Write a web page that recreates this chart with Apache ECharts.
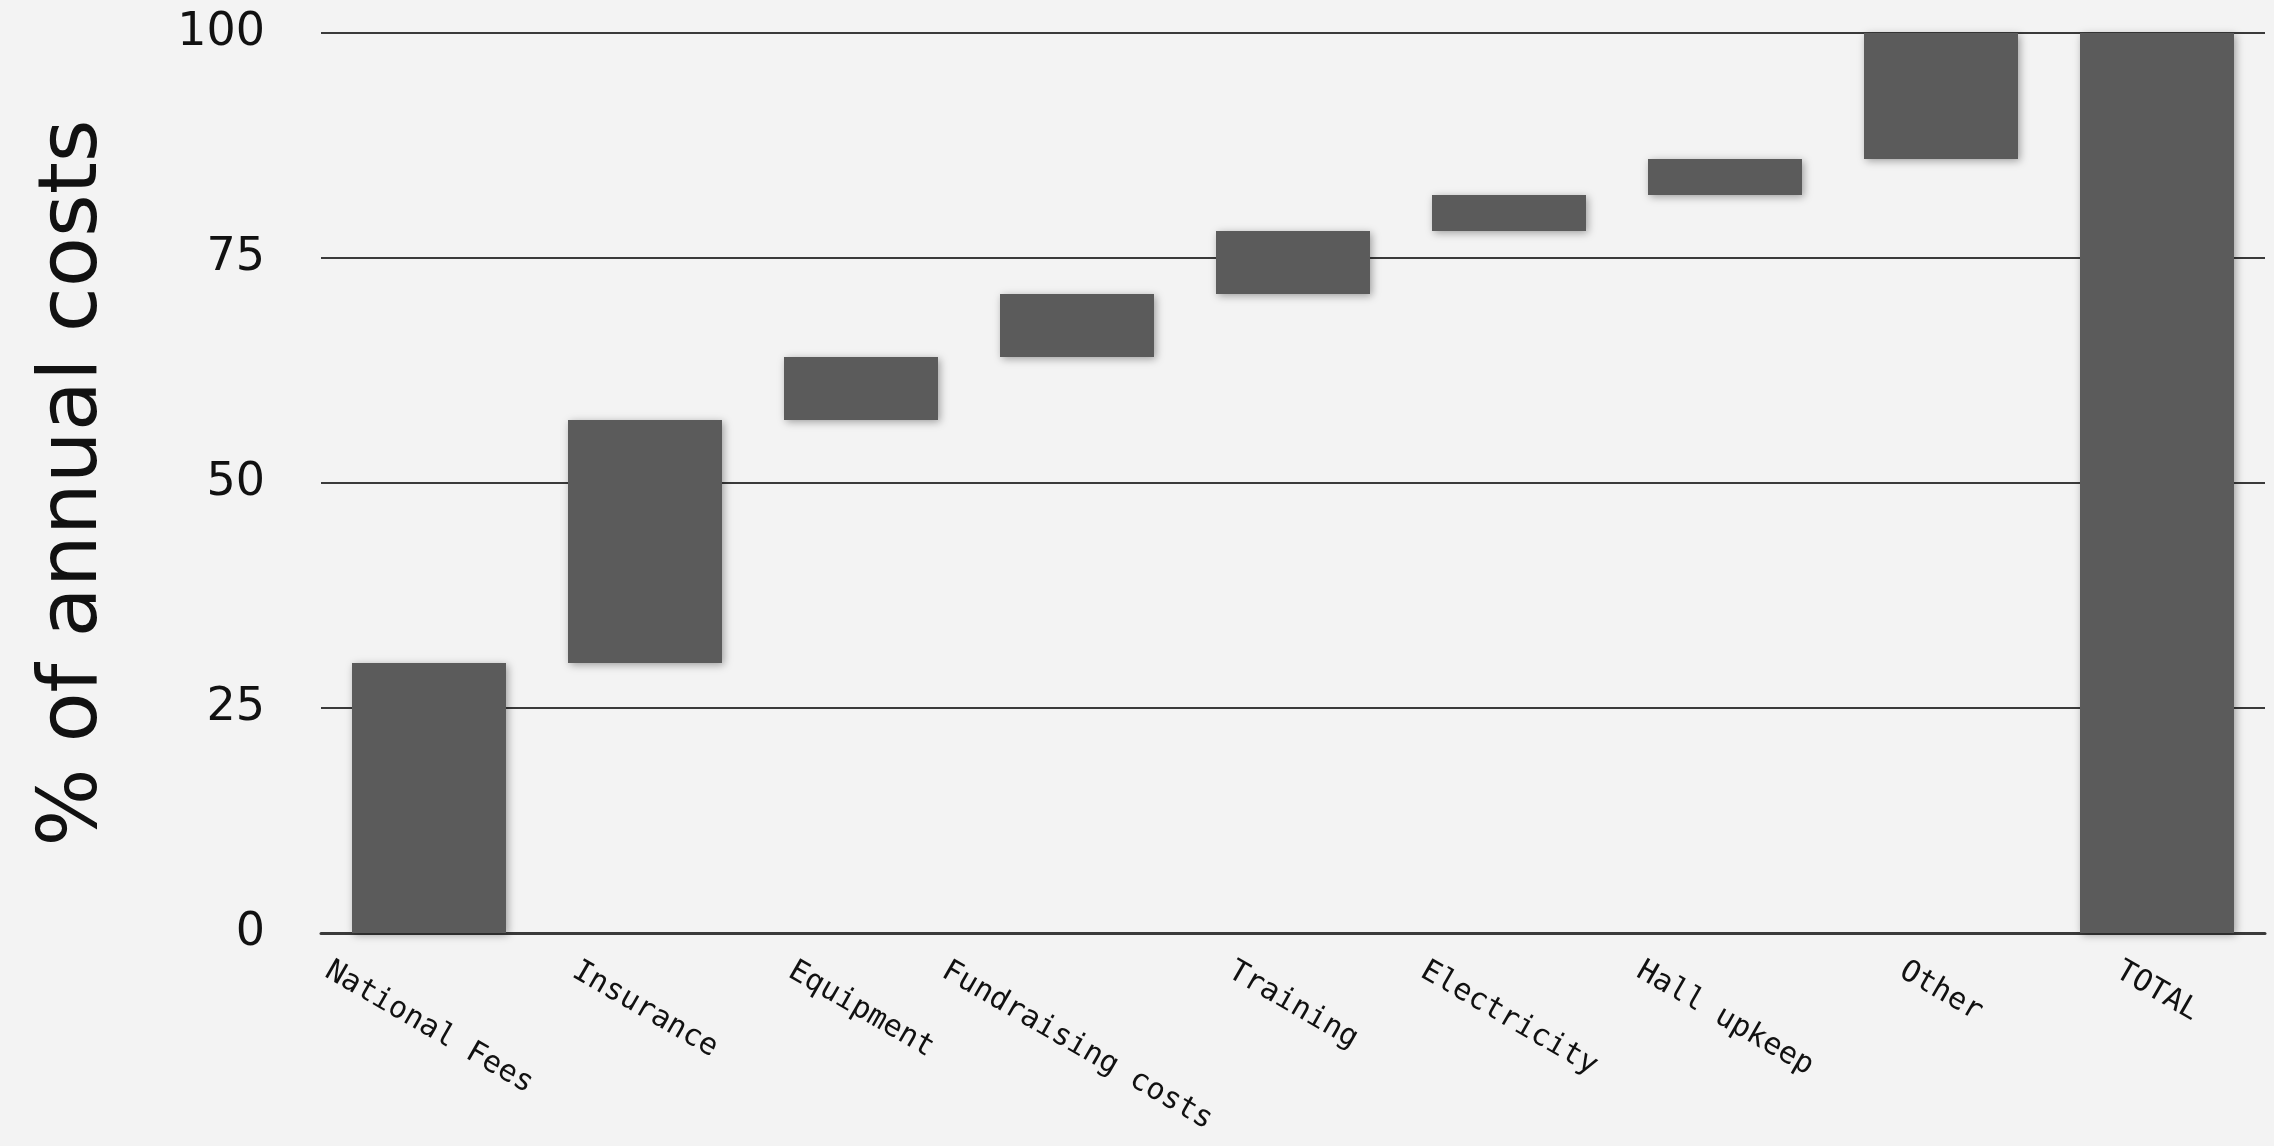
<!DOCTYPE html>
<html>
<head>
<meta charset="utf-8">
<script src="https://cdn.jsdelivr.net/npm/echarts@6/dist/echarts.min.js"></script>
<style>
html,body{margin:0;padding:0;background:#f3f3f3;}
#c{width:2274px;height:1146px;}
</style>
</head>
<body>
<div id="c"></div>
<script>
const categories = ['National Fees','Insurance','Equipment','Fundraising costs','Training','Electricity','Hall upkeep','Other','TOTAL'];
const costShare = [30, 27, 7, 7, 7, 4, 4, 14, 100];
const isTotal = [false,false,false,false,false,false,false,false,true];
const yTicks = [0, 25, 50, 75, 100];

// invisible base for the waterfall, derived from the shares
const base = [];
let run = 0;
costShare.forEach((v, i) => {
  if (isTotal[i]) { base.push(0); }
  else { base.push(run); run += v; }
});

// label placement: centred on the tick, tops aligned
const FS = 30, CW = FS * 0.602;
const xData = categories.map(c => {
  const L = c.length * CW;
  const D = 26 + 0.25 * L;
  return { value: c, textStyle: {
    align: 'center', verticalAlign: 'top',
    lineHeight: 1.732 * D,
    padding: [0, 0, 0, D]
  } };
});

const chart = echarts.init(document.getElementById('c'));
chart.setOption({
  backgroundColor: '#f3f3f3',
  animation: false,
  grid: { left: 321, right: 9, top: 33, bottom: 213, containLabel: false, outerBoundsMode: 'none' },
  xAxis: {
    type: 'category',
    data: xData,
    axisTick: { show: false },
    axisLine: { lineStyle: { color: '#3a3a3a', width: 3 } },
    axisLabel: {
      interval: 0, rotate: -30, align: 'center', verticalAlign: 'top',
      margin: 10, fontFamily: 'DejaVu Sans Mono', fontSize: FS, color: '#111',
      hideOverlap: false
    }
  },
  yAxis: {
    type: 'value', min: 0, max: 100, interval: 25,
    name: '% of annual costs', nameLocation: 'middle', nameGap: 205,
    nameTextStyle: { fontFamily: 'DejaVu Sans', fontSize: 82, color: '#111' },
    axisLine: { show: false }, axisTick: { show: false },
    axisLabel: {
      margin: 56, fontFamily: 'DejaVu Sans', fontSize: 46, color: '#111',
      formatter: v => yTicks.includes(v) ? String(v) : ''
    },
    splitLine: { lineStyle: { color: '#3a3a3a', width: 2 } }
  },
  series: [
    {
      type: 'bar', stack: 'w', data: base, barWidth: 154,
      itemStyle: { color: 'transparent' }, silent: true
    },
    {
      type: 'bar', stack: 'w', data: costShare, barWidth: 154,
      itemStyle: {
        color: '#5b5b5b', shadowColor: 'rgba(0,0,0,0.35)', shadowBlur: 8,
        shadowOffsetX: 2, shadowOffsetY: 2
      }
    }
  ]
});
</script>
</body>
</html>
